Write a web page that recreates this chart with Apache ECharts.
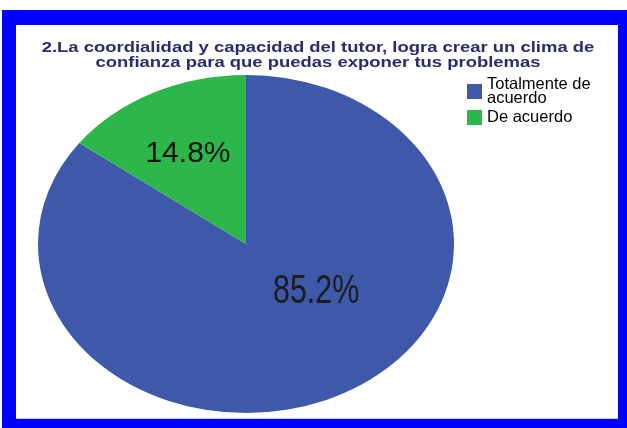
<!DOCTYPE html>
<html>
<head>
<meta charset="utf-8">
<script src="https://cdn.jsdelivr.net/npm/echarts@6/dist/echarts.min.js"></script>
<style>
  html, body { margin: 0; padding: 0; background: #fff; }
  #chart { width: 627px; height: 428px; }
</style>
</head>
<body>
<div id="chart"></div>
<script>
// datos del gráfico
var categories = ['Totalmente de acuerdo', 'De acuerdo'];
var values = [85.2, 14.8];
var colors = ['#3e58aa', '#2db64a'];
var titleText = '2.La coordialidad y capacidad del tutor, logra crear un clima de\nconfianza para que puedas exponer tus problemas';

// geometría del óvalo (pie estirado)
var CX = 246, CY = 244, RX = 208, RY = 169;
// posición de las etiquetas, relativa a los radios
var labelPos = [[0.337, 0.285], [-0.279, -0.535]];
var labelFont = [{ size: 40, scaleX: 0.76, color: '#1c1c1c' }, { size: 30, scaleX: 1, color: '#111' }];

var total = values.reduce(function (a, b) { return a + b; }, 0);

function makeSeries(i) {
  return {
    type: 'custom',
    name: categories[i],
    coordinateSystem: 'none',
    data: [values[i]],
    itemStyle: { color: colors[i] },
    silent: true,
    renderItem: function (params, api) {
      var before = 0;
      for (var k = 0; k < i; k++) before += values[k];
      var a0 = -Math.PI / 2 + before / total * Math.PI * 2;
      var a1 = a0 + values[i] / total * Math.PI * 2;
      return {
        type: 'group',
        children: [
          {
            type: 'sector',
            x: CX, y: CY,
            scaleX: RX / RY,
            shape: { cx: 0, cy: 0, r0: 0, r: RY, startAngle: a0, endAngle: a1, clockwise: true },
            style: { fill: api.visual('color') }
          },
          {
            type: 'text',
            x: CX + labelPos[i][0] * RX,
            y: CY + labelPos[i][1] * RY,
            scaleX: labelFont[i].scaleX,
            z2: 10,
            style: {
              text: values[i].toFixed(1) + '%',
              x: 0, y: 0,
              fill: labelFont[i].color,
              fontSize: labelFont[i].size,
              fontFamily: 'Liberation Sans, Arial, sans-serif',
              align: 'center',
              verticalAlign: 'middle'
            }
          }
        ]
      };
    }
  };
}

var chart = echarts.init(document.getElementById('chart'));
var option = {
  backgroundColor: '#ffffff',
  animation: false,
  graphic: [
    { type: 'rect', z: -10, shape: { x: 2, y: 10, width: 625, height: 418 }, style: { fill: '#0000ff' } },
    { type: 'rect', z: -9, shape: { x: 16, y: 25, width: 602, height: 394 }, style: { fill: '#ffffff' } },
    { type: 'line', z: -8, shape: { x1: 16, y1: 418.5, x2: 618, y2: 418.5 }, style: { stroke: '#c8c8d8', lineWidth: 1 } },
    // título (estirado horizontalmente como en la imagen original)
    {
      type: 'text',
      x: 318, y: 55.5,
      scaleX: 1.23,
      style: {
        text: titleText,
        x: 0, y: 0,
        fill: '#2b2b70',
        fontSize: 15,
        fontWeight: 'bold',
        lineHeight: 15,
        fontFamily: 'Liberation Sans, Arial, sans-serif',
        align: 'center',
        verticalAlign: 'middle'
      }
    }
  ],
  legend: {
    orient: 'vertical',
    left: 467,
    top: 76,
    padding: 0,
    itemWidth: 15,
    itemHeight: 15,
    itemGap: 2,
    icon: 'rect',
    selectedMode: false,
    data: categories,
    textStyle: {
      color: '#000',
      fontSize: 16.5,
      lineHeight: 14,
      width: 120,
      overflow: 'break',
      fontFamily: 'Liberation Sans, Arial, sans-serif'
    }
  },
  series: categories.map(function (c, i) { return makeSeries(i); })
};
chart.setOption(option);
</script>
</body>
</html>
